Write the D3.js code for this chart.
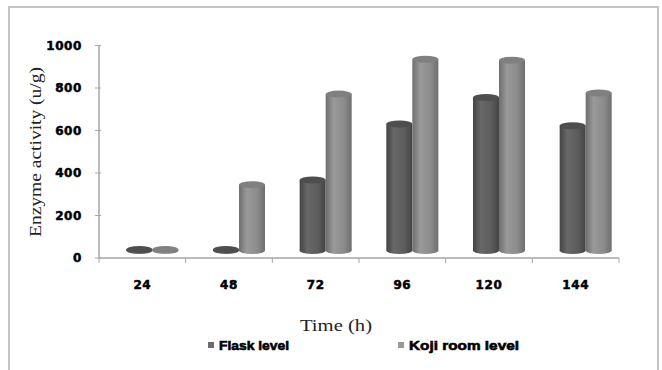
<!DOCTYPE html>
<html>
<head>
<meta charset="utf-8">
<script src="https://cdn.jsdelivr.net/npm/d3@7"></script>
<style>
  body { margin: 0; background: #fff; }
  svg { display: block; }
</style>
</head>
<body>
<div id="chart"></div>
<script>
const times = ['24', '48', '72', '96', '120', '144'];
const seriesNames = ['Flask level', 'Koji room level'];
const flask = [5, 5, 332, 595, 720, 587];
const koji = [5, 310, 736, 900, 895, 741];
const yTicks = [0, 200, 400, 600, 800, 1000];

const width = 662;
const height = 370;

const svg = d3.select('#chart').append('svg').attr('width', width).attr('height', height);

// frame
svg.append('rect')
  .attr('x', 9).attr('y', 7).attr('width', 649).attr('height', 372)
  .attr('fill', '#fff').attr('stroke', '#c4c4c4').attr('stroke-width', 2);

const x = d3.scaleBand().domain(times).range([99, 619]).padding(0);
const inner = d3.scaleBand().domain(seriesNames).range([0, 52]);
const y = d3.scaleLinear().domain([0, 1000]).range([258, 45.5]);

// 3D depth shift for the cylinders
const dx = 10;
const dy = 7.5;
const rx = 13;
const ry = 3.5;

const colors = {
  'Flask level': { dark: '#444444', mid: '#5c5c5c', light: '#686868', top: '#4e4e4e', key: '#6c6c6c' },
  'Koji room level': { dark: '#6e6e6e', mid: '#8c8c8c', light: '#999999', top: '#808080', key: '#999999' }
};

const defs = svg.append('defs');
seriesNames.forEach((s, i) => {
  const g = defs.append('linearGradient').attr('id', 'grad' + i).attr('x1', 0).attr('x2', 1).attr('y1', 0).attr('y2', 0);
  g.append('stop').attr('offset', '0%').attr('stop-color', colors[s].dark);
  g.append('stop').attr('offset', '30%').attr('stop-color', colors[s].light);
  g.append('stop').attr('offset', '70%').attr('stop-color', colors[s].mid);
  g.append('stop').attr('offset', '100%').attr('stop-color', colors[s].dark);
});

// axes
const axisColor = '#a6a6a6';
svg.append('line').attr('x1', 99).attr('x2', 99).attr('y1', y(1000)).attr('y2', y(0))
  .attr('stroke', axisColor).attr('stroke-width', 1.5);
svg.append('line').attr('x1', 99).attr('x2', 619).attr('y1', y(0)).attr('y2', y(0))
  .attr('stroke', axisColor).attr('stroke-width', 1.5);

svg.selectAll('.ytick').data(yTicks).enter().append('line')
  .attr('x1', 95).attr('x2', 101)
  .attr('y1', (d) => y(d)).attr('y2', (d) => y(d))
  .attr('stroke', axisColor);

const xEdges = times.map((t) => x(t)).concat([x(times[times.length - 1]) + x.bandwidth()]);
svg.selectAll('.xtick').data(xEdges).enter().append('line')
  .attr('x1', (d) => d).attr('x2', (d) => d)
  .attr('y1', y(0)).attr('y2', y(0) + 5)
  .attr('stroke', axisColor);

svg.selectAll('.ylabel').data(yTicks).enter().append('text')
  .attr('x', 82).attr('y', (d) => y(d))
  .attr('dy', '0.36em')
  .attr('text-anchor', 'end')
  .style('font-family', 'DejaVu Sans').style('font-weight', 'bold').style('font-size', '12px')
  .style('letter-spacing', '0.6px')
  .style('stroke', '#000').style('stroke-width', '0.5px')
  .text((d) => d);

svg.selectAll('.xlabel').data(times).enter().append('text')
  .attr('x', (d) => x(d) + x.bandwidth() / 2).attr('y', 285)
  .attr('dy', '0.36em')
  .attr('text-anchor', 'middle')
  .style('font-family', 'DejaVu Sans').style('font-weight', 'bold').style('font-size', '12px')
  .style('letter-spacing', '0.6px')
  .style('stroke', '#000').style('stroke-width', '0.5px')
  .text((d) => d);

// cylinders
const rows = [];
times.forEach((t, i) => {
  rows.push({ t, s: seriesNames[0], v: flask[i], k: 0 });
  rows.push({ t, s: seriesNames[1], v: koji[i], k: 1 });
});

const bars = svg.selectAll('.cyl').data(rows).enter().append('g').attr('class', 'cyl')
  .attr('transform', (d) => `translate(${x(d.t) + x.bandwidth() / 2 - 26 + dx + inner(d.s) + rx}, ${-dy})`);

bars.append('ellipse')
  .attr('cx', 0).attr('cy', y(0)).attr('rx', rx).attr('ry', ry)
  .attr('fill', (d) => `url(#grad${d.k})`);
bars.append('rect')
  .attr('x', -rx).attr('width', rx * 2)
  .attr('y', (d) => y(d.v)).attr('height', (d) => y(0) - y(d.v))
  .attr('fill', (d) => `url(#grad${d.k})`);
bars.append('ellipse')
  .attr('cx', 0).attr('cy', (d) => y(d.v)).attr('rx', rx).attr('ry', ry)
  .attr('fill', (d) => colors[d.s].top);

// axis titles
svg.append('text')
  .attr('transform', 'translate(41, 152) rotate(-90)')
  .attr('text-anchor', 'middle')
  .attr('textLength', 170).attr('lengthAdjust', 'spacingAndGlyphs')
  .style('font-family', 'Liberation Serif').style('font-size', '16px').style('fill', '#222')
  .text('Enzyme activity (u/g)');

svg.append('text')
  .attr('x', 336).attr('y', 331)
  .attr('text-anchor', 'middle')
  .attr('textLength', 72).attr('lengthAdjust', 'spacingAndGlyphs')
  .style('font-family', 'Liberation Serif').style('font-size', '16px').style('fill', '#222')
  .text('Time (h)');

// legend
const legend = [
  { s: seriesNames[0], x: 208, w: 70 },
  { s: seriesNames[1], x: 398, w: 110 }
];
const lg = svg.selectAll('.legend').data(legend).enter().append('g')
  .attr('transform', (d) => `translate(${d.x}, 345)`);
lg.append('rect').attr('x', 0).attr('y', -3).attr('width', 6).attr('height', 6)
  .attr('fill', (d) => colors[d.s].key);
lg.append('text').attr('x', 11).attr('y', 0).attr('dy', '0.36em')
  .attr('textLength', (d) => d.w).attr('lengthAdjust', 'spacingAndGlyphs')
  .style('font-family', 'Liberation Sans').style('font-weight', 'bold').style('font-size', '13px')
  .style('stroke', '#000').style('stroke-width', '0.6px')
  .text((d) => d.s);
</script>
</body>
</html>
